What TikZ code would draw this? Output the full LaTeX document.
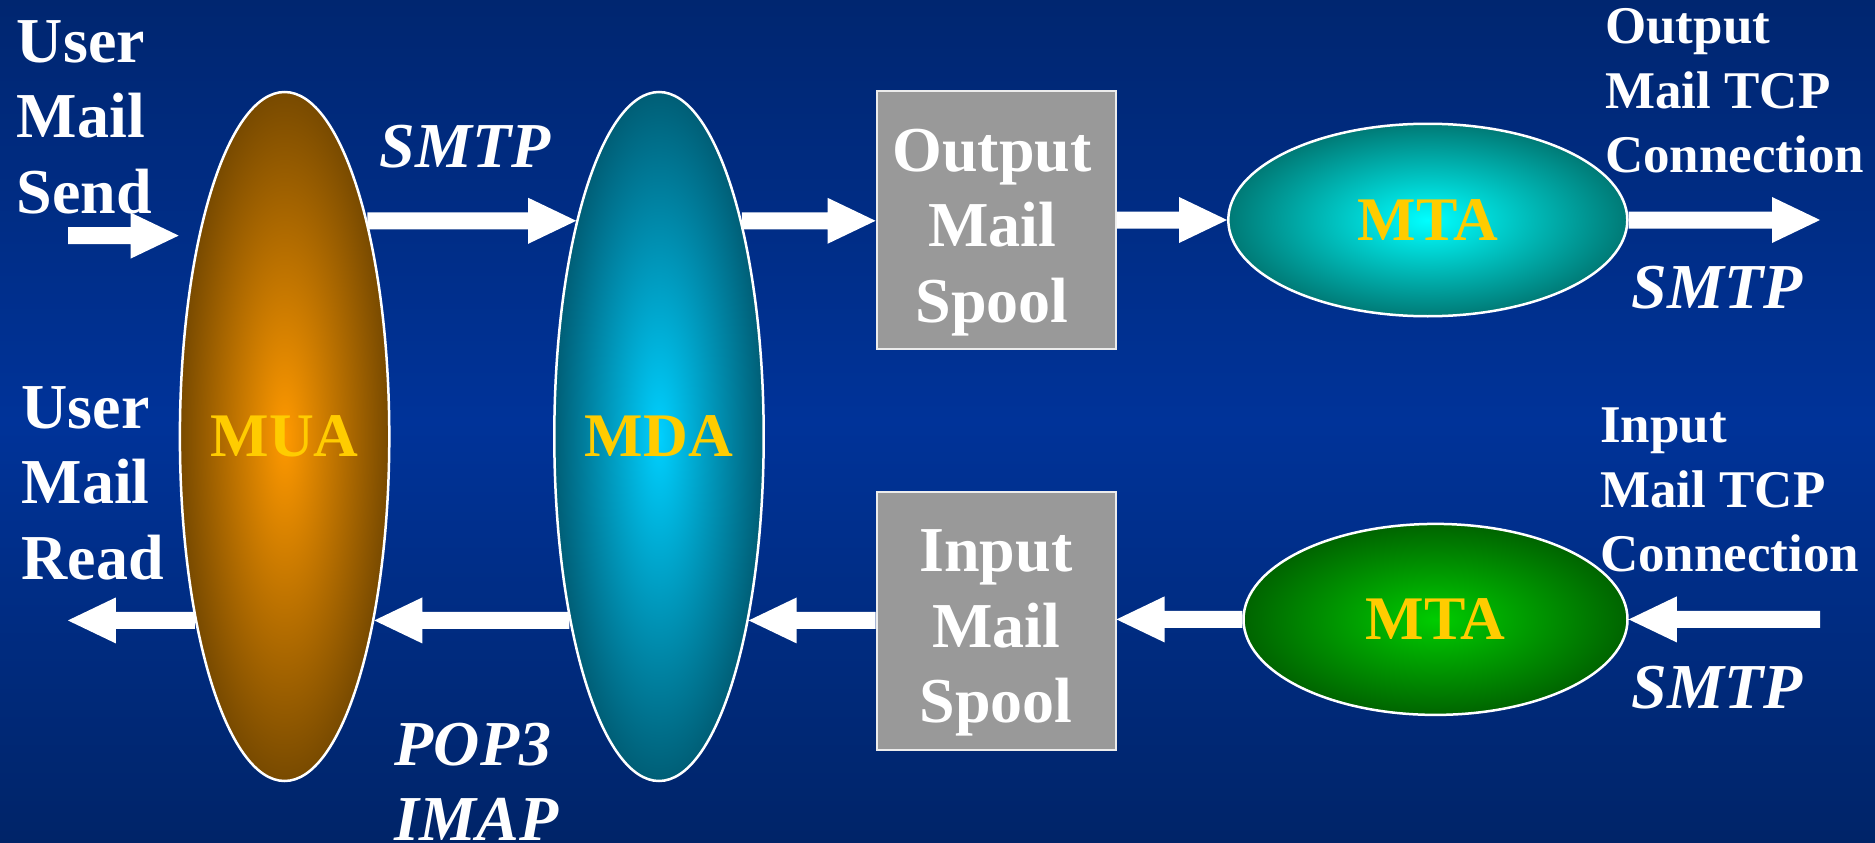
\documentclass[tikz,border=0pt]{standalone}
\usepackage{fontspec}
\setmainfont{Liberation Serif}
\usetikzlibrary{calc,shapes.geometric}

\definecolor{bgtop}{RGB}{0,38,112}
\definecolor{bgmid}{RGB}{0,51,153}
\definecolor{bgbot}{RGB}{0,36,104}
\definecolor{gold}{RGB}{255,204,0}
\definecolor{spoolgray}{RGB}{153,153,153}
\definecolor{muain}{RGB}{255,153,0}
\definecolor{muaout}{RGB}{120,74,0}
\definecolor{mdain}{RGB}{0,208,255}
\definecolor{mdaout}{RGB}{0,94,118}
\definecolor{mtaoin}{RGB}{0,255,255}
\definecolor{mtaoout}{RGB}{0,122,118}
\definecolor{mtaiin}{RGB}{0,204,0}
\definecolor{mtaiout}{RGB}{0,100,0}

% stacked lines, first baseline = box baseline
\newcommand\lstack[1]{\vtop{\halign{##\hfil\cr#1\crcr}}}
\newcommand\cstack[1]{\vtop{\halign{\hfil##\hfil\cr#1\crcr}}}

% wide white block arrow from #1 to #2
\newcommand\blockarrow[2]{%
  \path (#2) coordinate (ba-tip) ($(#2)!48pt!(#1)$) coordinate (ba-neck) (#1) coordinate (ba-tail);
  \fill[arrowbody]
    ($(ba-tail)!8.5pt!90:(ba-tip)$) --
    ($(ba-neck)!8.5pt!-90:(ba-tail)$) --
    ($(ba-neck)!23pt!-90:(ba-tail)$) --
    (ba-tip) --
    ($(ba-neck)!23pt!90:(ba-tail)$) --
    ($(ba-neck)!8.5pt!90:(ba-tail)$) --
    ($(ba-tail)!8.5pt!-90:(ba-tip)$) -- cycle;
}

\tikzset{
  agent/.style={ellipse, draw=white, line width=2.5pt, inner sep=0pt, text=gold,
    font=\bfseries\fontsize{62}{62}\selectfont},
  spool/.style={rectangle, draw=white!85!gray, line width=2pt, fill=spoolgray,
    minimum width=239pt, minimum height=257pt, inner sep=0pt},
  txt/.style={text=white, inner sep=0pt, font=\bfseries\fontsize{64}{75.5}\selectfont},
  proto/.style={text=white, inner sep=0pt, font=\bfseries\itshape\fontsize{64}{75.5}\selectfont},
  smalltxt/.style={text=white, inner sep=0pt, font=\bfseries\fontsize{53}{64.5}\selectfont},
  arrowbody/.style={fill=white}
}

\begin{document}
\begin{tikzpicture}[x=1pt, y=-1pt]
\useasboundingbox (0,0) rectangle (1875,843);
\shade[top color=bgtop, bottom color=bgbot, middle color=bgmid] (0,0) rectangle (1875,843);

% agents
\node[agent, minimum width=208pt, minimum height=689pt, inner color=muain, outer color=muaout] (mua) at (284.6,436.5) {MUA};
\node[agent, minimum width=208pt, minimum height=689pt, inner color=mdain, outer color=mdaout] (mda) at (659,436.5) {MDA};
\node[agent, minimum width=399pt, minimum height=192.5pt, inner color=mtaoin, outer color=mtaoout] (mtao) at (1427.8,220) {MTA};
\node[agent, minimum width=384pt, minimum height=191pt, inner color=mtaiin, outer color=mtaiout] (mtai) at (1435.5,619.4) {MTA};

% spools
\node[spool] (out) at (996,220) {};
\node[spool, minimum height=258pt] (inp) at (996,620.6) {};
\node[txt, anchor=base] (outtxt) at ($(out.center)+(-4,-49)$) {\cstack{Output\cr Mail\cr Spool}};
\node[txt, anchor=base] (inptxt) at ($(inp.center)+(0,-49)$) {\cstack{Input\cr Mail\cr Spool}};

% labels
\node[txt, anchor=base west] (sendlbl) at (16.7,62.2) {\lstack{User\cr Mail\cr Send}};
\node[txt, anchor=base west] (readlbl) at (21.5,428) {\lstack{User\cr Mail\cr Read}};
\node[proto, anchor=base] (smtpa) at (465,167.4) {SMTP};
\node[proto, anchor=base west] (poplbl) at (394.6,765) {\lstack{POP3\cr IMAP}};
\node[smalltxt, anchor=base west] (tcpoutlbl) at (1605,44) {\lstack{Output\cr Mail TCP\cr Connection}};
\node[proto, anchor=base] (smtpb) at (1717,308.5) {SMTP};
\node[smalltxt, anchor=base west] (tcpinlbl) at (1600,442.5) {\lstack{Input\cr Mail TCP\cr Connection}};
\node[proto, anchor=base] (smtpc) at (1717,708) {SMTP};
\node[txt, anchor=base west] (footer) at (1040,890) {MUA: Mail User Agent};

% sending path
\coordinate (sendtail) at (68,235.6);
\coordinate (sendtip) at (mua.west |- sendtail);
\blockarrow{sendtail}{sendtip}
\blockarrow{mua.69}{mda.111}
\coordinate (outin) at (mda.69 -| out.west);
\blockarrow{mda.69}{outin}
\blockarrow{out.east}{mtao.west}
\coordinate (tcpoutend) at (1820,220);
\blockarrow{mtao.east}{tcpoutend}

% receiving path
\coordinate (tcpinstart) at (1820,619.4);
\blockarrow{tcpinstart}{mtai.east}
\coordinate (inpin) at (mtai.west -| inp.east);
\blockarrow{mtai.west}{inpin}
\coordinate (inpout) at (mda.296 -| inp.west);
\blockarrow{inpout}{mda.296}
\blockarrow{mda.244}{mua.296}
\path (mua.244) ++(-127,0) coordinate (readtip);
\blockarrow{mua.244}{readtip}
\end{tikzpicture}
\end{document}
